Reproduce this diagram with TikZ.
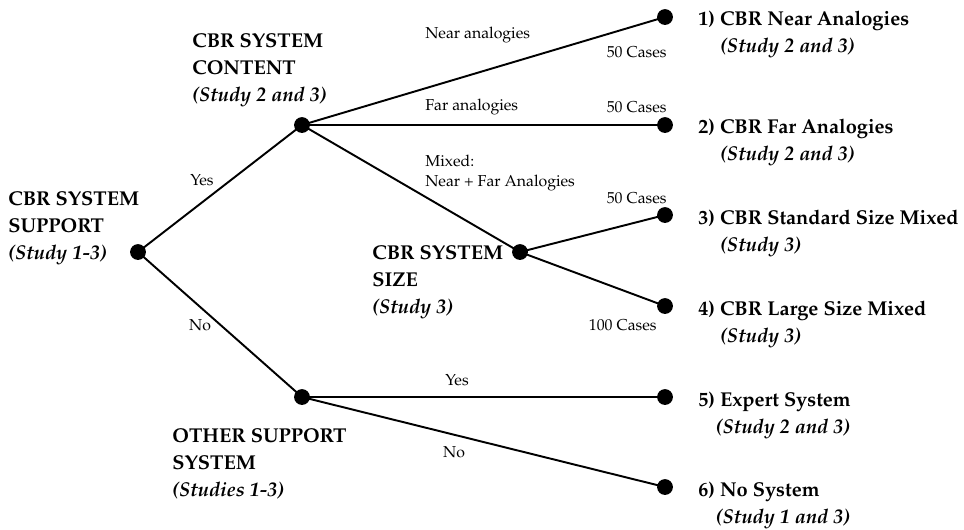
\documentclass[tikz,border=0pt]{standalone}
\usepackage[T1]{fontenc}
\usepackage{mathpazo}
\tikzset{
  dot/.style={circle, fill=black, inner sep=0pt, minimum size=9pt},
  bigtext/.style={font=\fontsize{11.4}{15.4}\selectfont\bfseries, align=left, anchor=west, inner sep=0pt},
  smalltext/.style={font=\fontsize{9}{11.4}\selectfont, inner sep=0pt},
  branch/.style={line width=1.1pt}
}
\begin{document}
\begin{tikzpicture}[x=0.02cm, y=-0.02cm]
      \useasboundingbox (0,0) rectangle (964,529);
      % decision points
      \node[dot] (root) at (138,252) {};
      \node[dot] (content) at (302,125) {};
      \node[dot] (size) at (520,252) {};
      \node[dot] (other) at (302,397) {};
      % outcomes
      \node[dot] (leaf1) at (665,17) {};
      \node[dot] (leaf2) at (665,125) {};
      \node[dot] (leaf3) at (665,215) {};
      \node[dot] (leaf4) at (665,306) {};
      \node[dot] (leaf5) at (665,397) {};
      \node[dot] (leaf6) at (665,487) {};
      % branches
      \draw[branch] (root.center) -- (content.center);
      \draw[branch] (root.center) -- (other.center);
      \draw[branch] (content.center) -- (leaf1.center);
      \draw[branch] (content.center) -- (leaf2.center);
      \draw[branch] (content.center) -- (size.center);
      \draw[branch] (size.center) -- (leaf3.center);
      \draw[branch] (size.center) -- (leaf4.center);
      \draw[branch] (other.center) -- (leaf5.center);
      \draw[branch] (other.center) -- (leaf6.center);
      % decision labels
      \node[bigtext] (rootlabel) at (8,228) {CBR SYSTEM\\SUPPORT\\\textit{(Study 1-3)}};
      \node[bigtext] (contentlabel) at (192,70) {CBR SYSTEM\\CONTENT\\\textit{(Study 2 and 3)}};
      \node[bigtext] (sizelabel) at (372,282) {CBR SYSTEM\\SIZE\\\textit{(Study 3)}};
      \node[bigtext] (otherlabel) at (172,464) {OTHER SUPPORT\\SYSTEM\\\textit{(Studies 1-3)}};
      % branch labels
      \node[smalltext] (yes1) at (202,180) {Yes};
      \node[smalltext] (no1) at (200,325) {No};
      \node[smalltext, anchor=west] (near) at (425,35) {Near analogies};
      \node[smalltext, anchor=west] (far) at (425,107) {Far analogies};
      \node[smalltext, anchor=west, align=left] (mixed) at (425,173) {Mixed:\\Near + Far Analogies};
      \node[smalltext, anchor=east] (cases1) at (667,52) {50 Cases};
      \node[smalltext, anchor=east] (cases2) at (667,107) {50 Cases};
      \node[smalltext, anchor=east] (cases3) at (667,198) {50 Cases};
      \node[smalltext, anchor=east] (cases4) at (657,325) {100 Cases};
      \node[smalltext] (yes2) at (457,380) {Yes};
      \node[smalltext] (no2) at (454,452) {No};
      % outcome labels
      \node[bigtext] (out1) at (698,34) {1) CBR Near Analogies\\\hspace*{12.5pt}\textit{(Study 2 and 3)}};
      \node[bigtext] (out2) at (698,142) {2) CBR Far Analogies\\\hspace*{12.5pt}\textit{(Study 2 and 3)}};
      \node[bigtext] (out3) at (698,233) {3) CBR Standard Size Mixed\\\hspace*{12.5pt}\textit{(Study 3)}};
      \node[bigtext] (out4) at (698,324) {4) CBR Large Size Mixed\\\hspace*{12.5pt}\textit{(Study 3)}};
      \node[bigtext] (out5) at (698,415) {5) Expert System\\\hspace*{10pt}\textit{(Study 2 and 3)}};
      \node[bigtext] (out6) at (698,505) {6) No System\\\hspace*{10pt}\textit{(Study 1 and 3)}};
\end{tikzpicture}
\end{document}
